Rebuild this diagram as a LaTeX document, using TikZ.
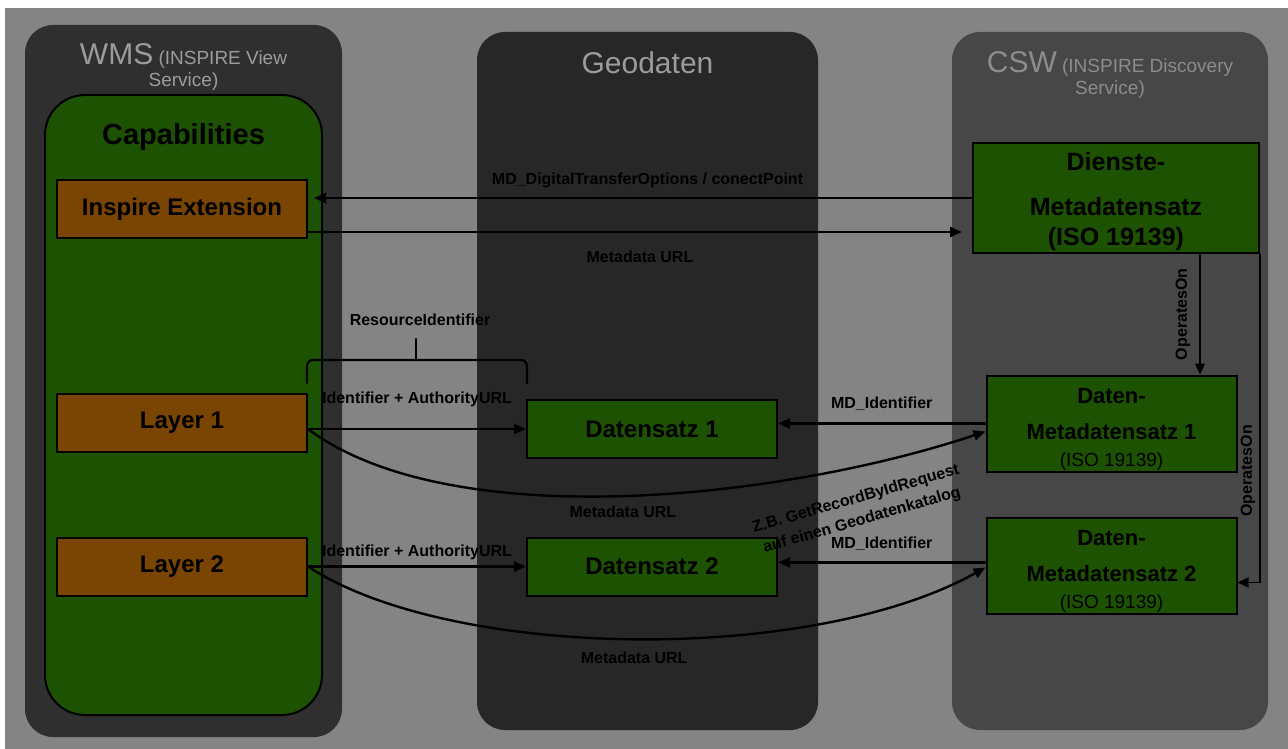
\documentclass[tikz,border=0pt]{standalone}
\usepackage{fontspec}
\setmainfont{Liberation Sans}
\usetikzlibrary{arrows.meta}
\usetikzlibrary{calc}

\definecolor{bggray}{RGB}{132,132,132}
\definecolor{wmsgray}{RGB}{47,47,47}
\definecolor{geogray}{RGB}{39,39,39}
\definecolor{cswgray}{RGB}{71,71,71}
\definecolor{capgreen}{RGB}{28,82,1}
\definecolor{layerbrown}{RGB}{122,68,2}
\definecolor{titlegray}{RGB}{156,156,156}
\definecolor{cswtext}{RGB}{140,140,140}

\tikzset{
  box/.style={draw=black, line width=2pt, inner sep=0pt, align=center,
    font=\bfseries\fontsize{24}{28}\selectfont},
  layerbox/.style={box, fill=layerbrown, minimum width=250pt, minimum height=58pt},
  databox/.style={box, fill=capgreen, minimum width=250pt, minimum height=58pt},
  metabox/.style={box, fill=capgreen, minimum width=250pt, minimum height=96pt,
    font=\bfseries\fontsize{22}{27}\selectfont},
  paneltitle/.style={text=titlegray, align=center, inner sep=0pt,
    font=\fontsize{19}{22}\selectfont},
  lbl/.style={font=\bfseries\fontsize{16}{22}\selectfont, inner sep=1pt},
  link/.style={line width=2.4pt, -{Triangle[length=12pt,width=10pt]}},
  thinlink/.style={line width=1.4pt, -{Triangle[length=11pt,width=10pt]}},
  bracket/.style={line width=2.2pt, line cap=round}
}

\begin{document}
\begin{tikzpicture}[x=1pt, y=-1pt]
  \useasboundingbox (0,0) rectangle (1288,749);
  \fill[white] (0,0) rectangle (1288,749);
  \fill[bggray] (5,8) rectangle (1288,749);

  % columns
  \fill[wmsgray, rounded corners=28pt] (25,25) rectangle (342,737);
  \fill[geogray, rounded corners=28pt] (477,32) rectangle (818,730);
  \fill[cswgray, rounded corners=28pt] (952,32) rectangle (1268,730);

  \node[paneltitle] (wmstitle) at (183.5,67) {{\fontsize{30}{30}\selectfont WMS} (INSPIRE View\\Service)};
  \node[paneltitle, font=\fontsize{30}{32}\selectfont] (geotitle) at (647.5,63) {Geodaten};
  \node[paneltitle, text=cswtext] (cswtitle) at (1110,75) {{\fontsize{30}{30}\selectfont CSW} (INSPIRE Discovery\\Service)};

  % WMS side
  \node[draw=black, line width=2pt, fill=capgreen, rounded corners=40pt,
    minimum width=277pt, minimum height=620pt] (caps) at (183.5,405) {};
  \node[font=\bfseries\fontsize{29}{32}\selectfont] (capstitle) at (183.5,137) {Capabilities};

  \node[layerbox] (inspire) at (182,209) {Inspire Extension};
  \node[layerbox] (layer1) at (182,422.5) {Layer 1};
  \node[layerbox] (layer2) at (182,566.5) {Layer 2};

  % Geodaten
  \node[databox] (ds1) at (652,429) {Datensatz 1};
  \node[databox] (ds2) at (652,566.5) {Datensatz 2};

  % CSW side
  \node[databox, minimum width=286pt, minimum height=110pt,
    font=\bfseries\fontsize{25}{30}\selectfont] (dienste) at (1116,198) {\rule{0pt}{26pt}Dienste-\\[15pt]Metadatensatz\\(ISO 19139)};
  \node[metabox] (dmd1) at (1111.5,423.5) {\rule{0pt}{26pt}Daten-\\[9pt]Metadatensatz 1\\{\mdseries\fontsize{19}{22}\selectfont (ISO 19139)}};
  \node[metabox] (dmd2) at (1111.5,565.5) {\rule{0pt}{26pt}Daten-\\[9pt]Metadatensatz 2\\{\mdseries\fontsize{19}{22}\selectfont (ISO 19139)}};

  % service links
  \draw[link, shorten >=-9pt] (dienste.west) -- (dienste.west -| caps.east)
    node[lbl, midway, above=8pt] {MD\_DigitalTransferOptions / conectPoint};
  \coordinate (urlstart) at ([yshift=-23pt]inspire.east);
  \draw[link, shorten >=10pt] (urlstart) -- (urlstart -| dienste.west)
    node[lbl, midway, below=17pt] {Metadata URL};

  \coordinate (opx) at (1200,0);
  \draw[thinlink] (opx |- dienste.south) -- (opx |- dmd1.north)
    node[lbl, midway, xshift=-8pt, rotate=90, anchor=south] {OperatesOn};
  \draw[thinlink] (dienste.south east) |- ([yshift=-17pt]dmd2.east)
    node[lbl, pos=0.33, xshift=-3pt, rotate=90, anchor=south] {OperatesOn};

  % layers
  \draw[bracket, rounded corners=6pt] (307,383) -- (307,360) -- (527,360) -- (527,383);
  \draw[bracket] (416,360) -- (416,339);
  \node[lbl] (resid) at (420,320) {ResourceIdentifier};

  \draw[link] (layer1.east |- ds1.west) -- (ds1.west)
    node[lbl, midway, above=20pt] {Identifier + AuthorityURL};
  \draw[link] (layer2.east) -- (ds2.west)
    node[lbl, midway, above=4pt] {Identifier + AuthorityURL};

  \draw[link] (dmd1.west) -- (dmd1.west -| ds1.east)
    node[lbl, midway, above=11pt] {MD\_Identifier};
  \draw[link] ([yshift=3pt]dmd2.west) -- ([yshift=3pt]dmd2.west -| ds2.east)
    node[lbl, midway, above=10pt] {MD\_Identifier};

  \draw[link] (layer1.east |- ds1.west) .. controls (450,535) and (780,500) .. ([yshift=-8pt]dmd1.west)
    node[lbl, pos=0.5, below=8pt] {Metadata URL};
  \draw[link] (layer2.east) .. controls (450,660) and (810,665) .. ([yshift=-2pt]dmd2.west)
    node[lbl, pos=0.5, below=11pt] {Metadata URL};

  \node[lbl, rotate=16, align=center] (getrecord) at (859,510) {Z.B. GetRecordByIdRequest\\auf einen Geodatenkatalog};
\end{tikzpicture}
\end{document}
